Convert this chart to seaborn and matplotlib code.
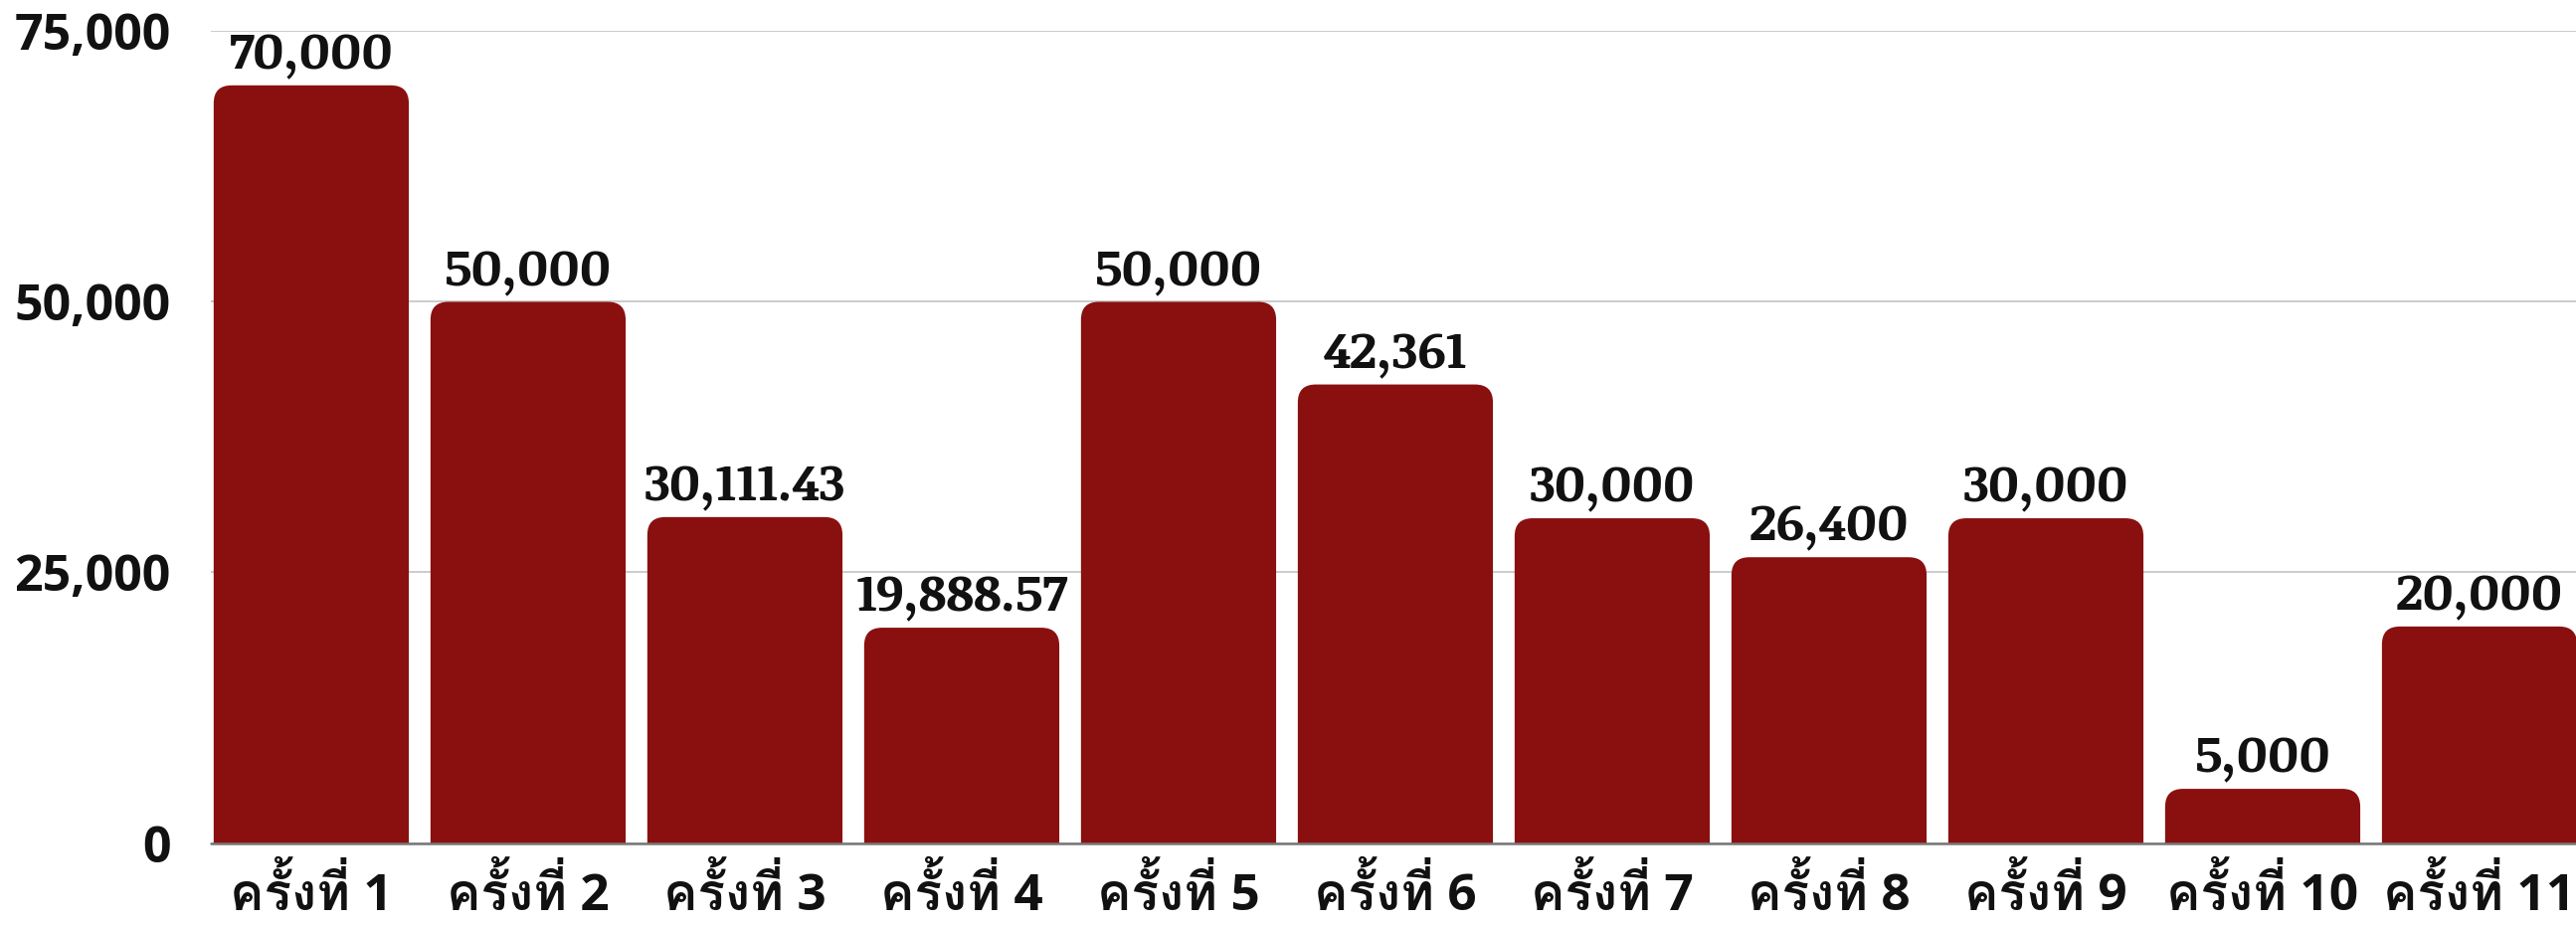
import matplotlib
matplotlib.use("Agg")
import matplotlib.pyplot as plt
from matplotlib.patches import FancyBboxPatch
import seaborn as sns
import pandas as pd

categories = ["ครั้งที่ 1", "ครั้งที่ 2", "ครั้งที่ 3", "ครั้งที่ 4", "ครั้งที่ 5", "ครั้งที่ 6",
              "ครั้งที่ 7", "ครั้งที่ 8", "ครั้งที่ 9", "ครั้งที่ 10", "ครั้งที่ 11"]
values = [70000, 50000, 30111.43, 19888.57, 50000, 42361, 30000, 26400, 30000, 5000, 20000]
y_ticks = [0, 25000, 50000, 75000]
y_tick_labels = ["0", "25,000", "50,000", "75,000"]

BAR_COLOR = "#8a1010"
W, H, DPI = 25.9, 9.3, 100

sns.set_theme(style="white")
plt.rcParams["font.family"] = ["Open Sans", "Loma", "DejaVu Sans"]

df = pd.DataFrame({"cat": categories, "val": values})

fig = plt.figure(figsize=(W, H), dpi=DPI)
ax_l, ax_b, ax_r, ax_t = 212 / 2590, 1 - 847.5 / 930, 1.0, 1 - 31.4 / 930
ax = fig.add_axes([ax_l, ax_b, ax_r - ax_l, ax_t - ax_b])

sns.barplot(data=df, x="cat", y="val", color=BAR_COLOR, width=0.9, saturation=1,
            edgecolor="none", linewidth=0, ax=ax, zorder=2)

xlim = (-0.463, 10.445)
ylim = (0, 75000)
ax.set_xlim(*xlim)
ax.set_ylim(*ylim)

# data labels
def fmt(v):
    return f"{v:,.0f}" if float(v).is_integer() else f"{v:,.2f}"

ax.bar_label(ax.containers[0], labels=[fmt(v) for v in values], padding=4,
             fontsize=37.5, fontweight="bold", family=["Noticia Text", "DejaVu Serif"],
             color="#111111", clip_on=False)

# rounded tops: replace the seaborn rectangles by rounded boxes of the same geometry
ax_w_px = (ax_r - ax_l) * W * DPI
ax_h_px = (ax_t - ax_b) * H * DPI
xu_per_px = (xlim[1] - xlim[0]) / ax_w_px
yu_per_px = (ylim[1] - ylim[0]) / ax_h_px
radius_px = 18
for p in list(ax.patches):
    x0, w, h = p.get_x(), p.get_width(), p.get_height()
    p.remove()
    extra = 6000
    fb = FancyBboxPatch((x0, -extra), w, h + extra,
                        boxstyle=f"round,pad=0,rounding_size={radius_px * xu_per_px}",
                        mutation_aspect=yu_per_px / xu_per_px,
                        facecolor=BAR_COLOR, edgecolor="none", linewidth=0, zorder=2)
    ax.add_patch(fb)

ax.set_yticks(y_ticks)
ax.set_yticklabels(y_tick_labels)
ax.set_xlabel("")
ax.set_ylabel("")
ax.grid(axis="y", color="#cccccc", linewidth=1.4, zorder=0)
ax.grid(axis="x", visible=False)
ax.set_axisbelow(True)
ax.axhline(0, color="#777777", linewidth=1.8, zorder=3, clip_on=False)
for s in ax.spines.values():
    s.set_visible(False)

ax.tick_params(axis="y", length=0, pad=29, labelsize=36)
ax.tick_params(axis="x", length=0, pad=18, labelsize=37)
for lab in ax.get_yticklabels() + ax.get_xticklabels():
    lab.set_fontweight("bold")
    lab.set_color("#111111")

fig.savefig("out.png", dpi=DPI)
